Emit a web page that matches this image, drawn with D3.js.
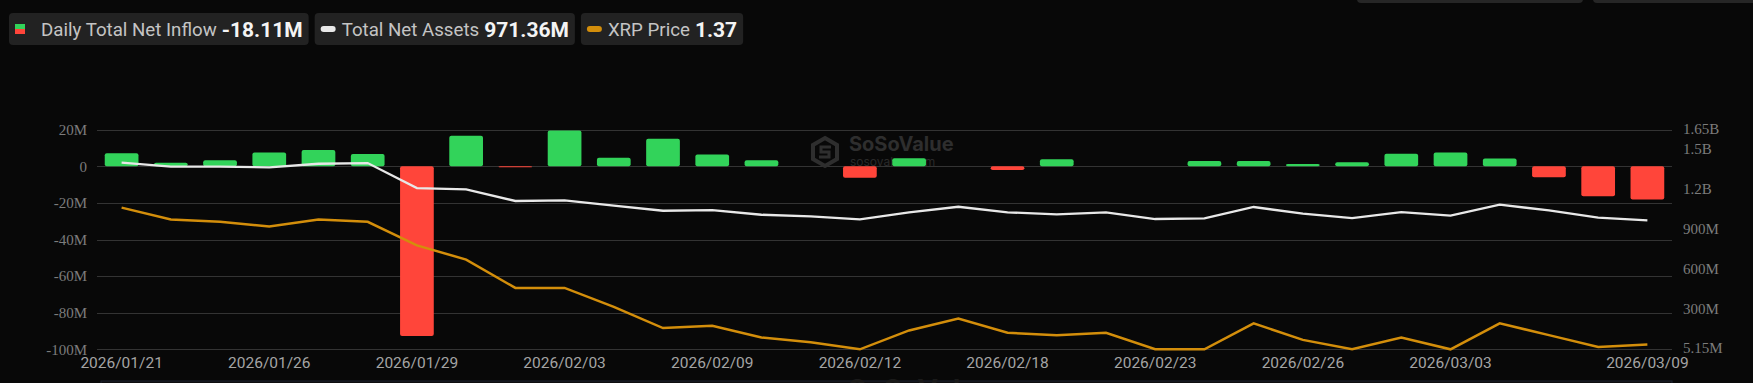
<!DOCTYPE html>
<html>
<head>
<meta charset="utf-8">
<script src="https://cdn.jsdelivr.net/npm/d3@7"></script>
<style>
  html, body { margin: 0; padding: 0; background: #080808; }
  svg { display: block; }
</style>
</head>
<body>
<svg id="chart" width="1753" height="383"></svg>
<script>
// dates shown on the x axis (trading days)
const dates = [
  "2026/01/21", "2026/01/22", "2026/01/23", "2026/01/26", "2026/01/27", "2026/01/28",
  "2026/01/29", "2026/01/30", "2026/02/02", "2026/02/03", "2026/02/04", "2026/02/05",
  "2026/02/09", "2026/02/10", "2026/02/11", "2026/02/12", "2026/02/13", "2026/02/17",
  "2026/02/18", "2026/02/19", "2026/02/20", "2026/02/23", "2026/02/24", "2026/02/25",
  "2026/02/26", "2026/02/27", "2026/03/02", "2026/03/03", "2026/03/04", "2026/03/05",
  "2026/03/06", "2026/03/09"
];

// daily total net inflow, millions USD
const netInflow = [
  7.1, 2.0, 3.3, 7.6, 8.9, 6.7, -92.7, 16.7, -0.5, 19.5, 4.7, 15.1,
  6.4, 3.3, 0, -6.2, 4.4, 0, -2.0, 3.8, 0, 0, 2.9, 2.9,
  1.3, 2.2, 6.9, 7.5, 4.2, -6.0, -16.4, -18.11
];

// total net assets, millions USD
const netAssets = [
  1403, 1373, 1373, 1368, 1395, 1400, 1213, 1203, 1116, 1121, 1081, 1043,
  1048, 1013, 1001, 979, 1031, 1073, 1031, 1016, 1031, 981, 986, 1071,
  1021, 988, 1033, 1006, 1088, 1046, 991, 971.36
];

// XRP price, USD
const xrpPrice = [
  1.95, 1.90, 1.89, 1.87, 1.90, 1.89, 1.79, 1.73, 1.61, 1.61, 1.53, 1.44,
  1.45, 1.40, 1.38, 1.35, 1.43, 1.48, 1.42, 1.41, 1.42, 1.35, 1.35, 1.46,
  1.39, 1.35, 1.40, 1.35, 1.46, 1.41, 1.36, 1.37
];

const leftTicks = [-100, -80, -60, -40, -20, 0, 20];
const leftTickLabels = ["-100M", "-80M", "-60M", "-40M", "-20M", "0", "20M"];
const rightTicks = [5.15, 300, 600, 900, 1200, 1500, 1650];
const rightTickLabels = ["5.15M", "300M", "600M", "900M", "1.2B", "1.5B", "1.65B"];

const legendItems = [
  { name: "Daily Total Net Inflow", value: "-18.11M", icon: "bar" },
  { name: "Total Net Assets", value: "971.36M", icon: "#e8e8e8" },
  { name: "XRP Price", value: "1.37", icon: "#d38e0b" }
];

const svg = d3.select("#chart");
const plotLeft = 97, plotRight = 1672, plotTop = 129.7, plotBottom = 349.3;

const x = d3.scaleBand()
  .domain(dates)
  .range([plotLeft, plotRight])
  .paddingInner(0.315)
  .paddingOuter(0.1575);

const yFlow = d3.scaleLinear().domain([-100, 20]).range([plotBottom, plotTop]);
const yAssets = d3.scaleLinear().domain([5.15, 1650]).range([plotBottom, plotTop]);
const yPrice = d3.scaleLinear().domain([1.35, 2.28]).range([plotBottom, plotTop]);

// stubs of the toolbar boxes at the very top right
svg.append("rect").attr("x", 1357).attr("y", -10).attr("width", 226).attr("height", 13)
  .attr("rx", 4).attr("fill", "#262626");
svg.append("rect").attr("x", 1593).attr("y", -10).attr("width", 180).attr("height", 13)
  .attr("rx", 4).attr("fill", "#262626");

// legend
const legend = svg.append("g");
let lx = 9;
legendItems.forEach((item) => {
  const g = legend.append("g");
  const box = g.append("rect")
    .attr("x", lx).attr("y", 13).attr("height", 32).attr("rx", 4)
    .attr("fill", "#222222");
  let tx;
  if (item.icon === "bar") {
    g.append("rect").attr("x", lx + 6).attr("y", 24).attr("width", 10).attr("height", 5).attr("fill", "#32d35a");
    g.append("rect").attr("x", lx + 6).attr("y", 29).attr("width", 10).attr("height", 5).attr("fill", "#ff453a");
    tx = lx + 32;
  } else {
    g.append("rect").attr("x", lx + 6).attr("y", 26).attr("width", 15).attr("height", 6)
      .attr("rx", 3).attr("fill", item.icon);
    tx = lx + 27;
  }
  const t1 = g.append("text")
    .attr("x", tx).attr("y", 35.5)
    .attr("font-family", "Roboto, sans-serif").attr("font-size", 18.7)
    .attr("fill", "#c4c4c4")
    .text(item.name);
  const w1 = t1.node().getComputedTextLength();
  const t2 = g.append("text")
    .attr("x", tx + w1 + 5).attr("y", 36.5)
    .attr("font-family", "Roboto, sans-serif").attr("font-size", 21).attr("font-weight", "bold")
    .attr("fill", "#f4f4f4")
    .text(item.value);
  const w2 = t2.node().getComputedTextLength();
  const bw = tx + w1 + 5 + w2 + 6 - lx;
  box.attr("width", bw);
  lx += bw + 6;
});

// gridlines
svg.append("g")
  .selectAll("line")
  .data(leftTicks)
  .join("line")
  .attr("x1", plotLeft).attr("x2", plotRight)
  .attr("y1", (d) => Math.round(yFlow(d)) + 0.5)
  .attr("y2", (d) => Math.round(yFlow(d)) + 0.5)
  .attr("stroke", "#333333")
  .attr("stroke-width", 1);

// watermark
const wm = svg.append("g").attr("fill", "none");
wm.append("path")
  .attr("d", "M825,138 L837,145 L837,159 L825,166 L813,159 L813,145 Z")
  .attr("stroke", "#2e2e2e").attr("stroke-width", 4);
wm.append("path")
  .attr("d", "M831,147 L821,147 L821,152 L829,152 L829,157 L819,157")
  .attr("stroke", "#2e2e2e").attr("stroke-width", 3);
svg.append("text").attr("x", 849).attr("y", 151)
  .attr("font-family", "Inter, sans-serif").attr("font-weight", "bold").attr("font-size", 20)
  .attr("fill", "#2e2e2e").text("SoSoValue");
svg.append("text").attr("x", 850).attr("y", 166)
  .attr("font-family", "Inter, sans-serif").attr("font-size", 12)
  .attr("fill", "#2a2a2a").text("sosovalue.com");

// bars
svg.append("g")
  .selectAll("rect")
  .data(netInflow.map((v, i) => ({ date: dates[i], v: v })).filter((d) => d.v !== 0))
  .join("rect")
  .attr("x", (d) => x(d.date))
  .attr("width", x.bandwidth())
  .attr("y", (d) => yFlow(Math.max(0, d.v)))
  .attr("height", (d) => Math.max(1, Math.abs(yFlow(d.v) - yFlow(0))))
  .attr("rx", 2)
  .attr("fill", (d) => d.v >= 0 ? "#32d35a" : "#ff453a");

// lines
const cx = (i) => x(dates[i]) + x.bandwidth() / 2;

svg.append("path")
  .datum(netAssets)
  .attr("fill", "none")
  .attr("stroke", "#e8e8e8")
  .attr("stroke-width", 2.3)
  .attr("d", d3.line().x((d, i) => cx(i)).y((d) => yAssets(d)));

svg.append("path")
  .datum(xrpPrice)
  .attr("fill", "none")
  .attr("stroke", "#d38e0b")
  .attr("stroke-width", 2.5)
  .attr("d", d3.line().x((d, i) => cx(i)).y((d) => yPrice(d)));

// axes
const leftAxis = svg.append("g")
  .attr("transform", `translate(${plotLeft},0)`)
  .call(d3.axisLeft(yFlow).tickValues(leftTicks).tickSize(0).tickPadding(10)
    .tickFormat((d, i) => leftTickLabels[i]));

const rightAxis = svg.append("g")
  .attr("transform", `translate(${plotRight},0)`)
  .call(d3.axisRight(yAssets).tickValues(rightTicks).tickSize(0).tickPadding(11)
    .tickFormat((d, i) => rightTickLabels[i]));

[leftAxis, rightAxis].forEach((a) => {
  a.select(".domain").remove();
  a.selectAll("text")
    .attr("font-family", "'Liberation Serif', 'Times New Roman', serif")
    .attr("font-size", 15)
    .attr("fill", "#7c7c7c");
});
rightAxis.selectAll("text").attr("dy", "0.22em");

const bottomAxis = svg.append("g")
  .attr("transform", `translate(0,${plotBottom})`)
  .call(d3.axisBottom(x)
    .tickValues(dates.filter((d, i) => (i % 3 === 0 && i <= 27) || i === dates.length - 1))
    .tickSize(0).tickPadding(8));
bottomAxis.select(".domain").remove();
bottomAxis.selectAll("text")
  .attr("font-family", "Roboto, sans-serif")
  .attr("font-size", 15.5)
  .attr("fill", "#a4a4a4");

// slider strip at the bottom edge
svg.append("rect").attr("x", 101).attr("y", 381).attr("width", 1571).attr("height", 12)
  .attr("fill", "#0e0e10").attr("stroke", "#1d2230");
svg.append("text").attr("x", 848).attr("y", 400)
  .attr("font-family", "Inter, sans-serif").attr("font-weight", "bold").attr("font-size", 28)
  .attr("fill", "#1a1a1a").text("SoSoValue");
</script>
</body>
</html>
